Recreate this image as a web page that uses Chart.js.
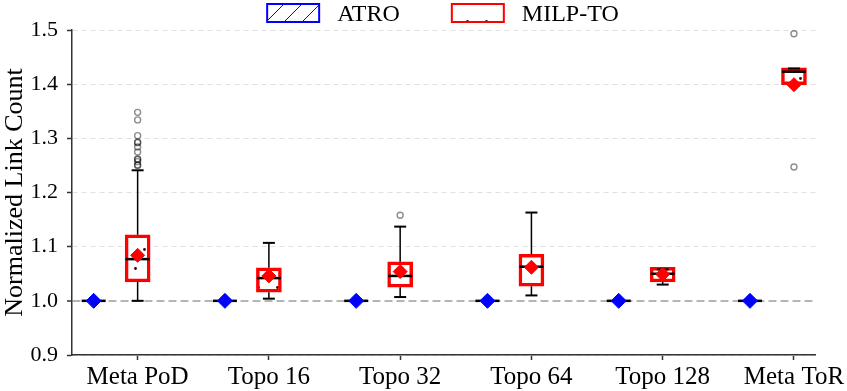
<!DOCTYPE html>
<html>
<head>
<meta charset="utf-8">
<script src="https://cdn.jsdelivr.net/npm/chart.js@4.4.1/dist/chart.umd.min.js"></script>
<style>
  html, body { margin: 0; padding: 0; background: #fff; }
  #wrap { width: 847px; height: 391px; }
</style>
</head>
<body>
<div id="wrap"><canvas id="chart" width="847" height="391"></canvas></div>
<script>
// categories and tick labels
const categories = ['Meta PoD', 'Topo 16', 'Topo 32', 'Topo 64', 'Topo 128', 'Meta ToR'];
const yTicks = [0.9, 1.0, 1.1, 1.2, 1.3, 1.4, 1.5];
const seriesNames = ['ATRO', 'MILP-TO'];

// ATRO: every run gives exactly the baseline
const atroLow    = [1.0, 1.0, 1.0, 1.0, 1.0, 1.0];
const atroQ1     = [1.0, 1.0, 1.0, 1.0, 1.0, 1.0];
const atroMedian = [1.0, 1.0, 1.0, 1.0, 1.0, 1.0];
const atroQ3     = [1.0, 1.0, 1.0, 1.0, 1.0, 1.0];
const atroHigh   = [1.0, 1.0, 1.0, 1.0, 1.0, 1.0];
const atroMean   = [1.0, 1.0, 1.0, 1.0, 1.0, 1.0];

// MILP-TO
const milpLow    = [1.000, 1.004, 1.007, 1.010, 1.030, 1.398];
const milpQ1     = [1.035, 1.016, 1.025, 1.027, 1.035, 1.399];
const milpMedian = [1.077, 1.042, 1.046, 1.063, 1.050, 1.423];
const milpQ3     = [1.122, 1.061, 1.072, 1.086, 1.062, 1.430];
const milpHigh   = [1.241, 1.107, 1.137, 1.163, 1.058, 1.429];
const milpMean   = [1.084, 1.046, 1.054, 1.062, 1.049, 1.399];
const milpOutliers = [
  [1.348, 1.334, 1.305, 1.292, 1.293, 1.284, 1.275, 1.262, 1.261, 1.257, 1.250, 1.251],
  [],
  [1.158],
  [],
  [],
  [1.493, 1.247]
];

const FONT = '"Liberation Serif", "Times New Roman", serif';
const RED = '#ff0000';
const BLUE = '#0000ff';
const atroShift = -0.335;   // ATRO box sits left of the tick

// hatch fills
function makePattern(w, h, paint) {
  const c = document.createElement('canvas');
  c.width = w; c.height = h;
  const g = c.getContext('2d');
  g.fillStyle = '#fff';
  g.fillRect(0, 0, w, h);
  paint(g);
  return document.getElementById('chart').getContext('2d').createPattern(c, 'repeat');
}
const dotHatch = makePattern(19, 38, g => {
  g.fillStyle = '#3a0000';
  [[11.5, 21.5], [2.5, 2.5]].forEach(([px, py]) => {
    g.beginPath(); g.arc(px, py, 1.4, 0, Math.PI * 2); g.fill();
  });
});
const slashHatch = makePattern(18, 18, g => {
  g.strokeStyle = BLUE;
  g.lineWidth = 1;
  g.beginPath();
  g.moveTo(0, 18); g.lineTo(18, 0);
  g.moveTo(-2, 2); g.lineTo(2, -2);
  g.moveTo(16, 20); g.lineTo(20, 16);
  g.stroke();
});

const atroBoxes = categories.map((c, i) => ({ x: i + atroShift, y: [atroQ1[i], atroQ3[i]] }));
const milpBoxes = categories.map((c, i) => ({ x: i, y: [milpQ1[i], milpQ3[i]] }));
const atroMeans = categories.map((c, i) => ({ x: i + atroShift, y: atroMean[i] }));
const milpMeans = categories.map((c, i) => ({ x: i, y: milpMean[i] }));
const fliers = [];
milpOutliers.forEach((list, i) => list.forEach(v => fliers.push({ x: i, y: v })));

// whiskers, caps and medians, drawn right after each box dataset
const whiskerPlugin = {
  id: 'whiskers',
  afterDatasetDraw(chart, args) {
    const ds = chart.data.datasets[args.index];
    if (!ds.stats) return;
    const { ctx, scales: { x, y } } = chart;
    const s = ds.stats;
    ctx.save();
    ctx.strokeStyle = '#000';
    ctx.lineCap = 'butt';
    categories.forEach((c, i) => {
      const px = x.getPixelForValue(i + s.shift);
      const line = (x1, y1, x2, y2, w) => {
        ctx.lineWidth = w;
        ctx.beginPath(); ctx.moveTo(x1, y1); ctx.lineTo(x2, y2); ctx.stroke();
      };
      line(px, y.getPixelForValue(s.q3[i]), px, y.getPixelForValue(s.high[i]), 1.5);
      line(px, y.getPixelForValue(s.q1[i]), px, y.getPixelForValue(s.low[i]), 1.5);
      line(px - 6, y.getPixelForValue(s.high[i]), px + 6, y.getPixelForValue(s.high[i]), 2);
      line(px - 6, y.getPixelForValue(s.low[i]), px + 6, y.getPixelForValue(s.low[i]), 2);
      const pm = y.getPixelForValue(s.median[i]);
      line(px - 12, pm, px + 12, pm, 2.5);
    });
    ctx.restore();
  }
};

// legend above the plot
const legendPlugin = {
  id: 'topLegend',
  afterDraw(chart) {
    const { ctx, chartArea } = chart;
    const items = [
      { text: seriesNames[0], color: BLUE, fill: slashHatch },
      { text: seriesNames[1], color: RED, fill: dotHatch }
    ];
    ctx.save();
    ctx.font = '24px ' + FONT;
    const boxW = 52, boxH = 18, gap = 18, itemGap = 52;
    let total = itemGap * (items.length - 1);
    items.forEach(it => { it.w = ctx.measureText(it.text).width; total += boxW + gap + it.w; });
    let cx = (chartArea.left + chartArea.right) / 2 - total / 2 - 1;
    items.forEach(it => {
      ctx.fillStyle = it.fill;
      ctx.fillRect(cx, 4, boxW, boxH);
      ctx.strokeStyle = it.color;
      ctx.lineWidth = 2;
      ctx.strokeRect(cx, 4, boxW, boxH);
      ctx.fillStyle = '#000';
      ctx.textBaseline = 'alphabetic';
      ctx.fillText(it.text, cx + boxW + gap, 21);
      cx += boxW + gap + it.w + itemGap;
    });
    ctx.restore();
  }
};

new Chart(document.getElementById('chart'), {
  type: 'bar',
  data: {
    datasets: [
      {
        type: 'scatter', label: 'means ' + seriesNames[1], data: milpMeans, order: 0,
        pointStyle: 'rectRot', pointRadius: 7, backgroundColor: RED, borderColor: RED, borderWidth: 1
      },
      {
        type: 'scatter', label: 'means ' + seriesNames[0], data: atroMeans, order: 0,
        pointStyle: 'rectRot', pointRadius: 7.5, backgroundColor: BLUE, borderColor: BLUE, borderWidth: 1
      },
      {
        type: 'scatter', label: 'outliers', data: fliers, order: 1,
        pointStyle: 'circle', pointRadius: 3, borderWidth: 1.4,
        borderColor: 'rgba(0,0,0,0.45)', backgroundColor: 'rgba(255,255,255,0)'
      },
      {
        label: seriesNames[0], data: atroBoxes, order: 2, grouped: false, barThickness: 25,
        backgroundColor: slashHatch, borderColor: BLUE, borderWidth: 3.5, borderSkipped: false,
        stats: { shift: atroShift, low: atroLow, q1: atroQ1, median: atroMedian, q3: atroQ3, high: atroHigh }
      },
      {
        label: seriesNames[1], data: milpBoxes, order: 2, grouped: false, barThickness: 25,
        backgroundColor: dotHatch, borderColor: RED, borderWidth: 3.5, borderSkipped: false,
        stats: { shift: 0, low: milpLow, q1: milpQ1, median: milpMedian, q3: milpQ3, high: milpHigh }
      }
    ]
  },
  options: {
    responsive: false,
    animation: false,
    layout: { padding: { top: 30, right: 30, left: 0, bottom: 0 } },
    plugins: { legend: { display: false }, tooltip: { enabled: false } },
    scales: {
      x: {
        type: 'linear', min: -0.5, max: 5.167, offset: false,
        afterBuildTicks: s => { s.ticks = categories.map((c, i) => ({ value: i })); },
        afterFit: s => { s.height = 36; },
        ticks: {
          callback: v => categories[v], autoSkip: false, maxRotation: 0,
          font: { family: FONT, size: 25 }, color: '#000', padding: 2
        },
        grid: { drawOnChartArea: false, offset: false, tickLength: 5, tickWidth: 1.5, tickColor: '#333' },
        border: { color: '#333', width: 1.5 }
      },
      y: {
        min: 0.9, max: 1.5,
        afterBuildTicks: s => { s.ticks = yTicks.map(v => ({ value: v })); },
        afterFit: s => { s.width = 72; },
        ticks: {
          callback: v => v.toFixed(1),
          font: { family: FONT, size: 22 }, color: '#000', padding: 9
        },
        grid: {
          color: c => (c.tick && c.tick.value === 1.0) ? '#b5b5b5' : '#e0e0e0',
          lineWidth: c => (c.tick && c.tick.value === 1.0) ? 2 : 1,
          tickLength: 5, tickWidth: 1.5, tickColor: '#333'
        },
        border: {
          color: '#333', width: 1.5,
          dash: c => (c.tick && c.tick.value === 1.0) ? [8, 4] : [5, 4]
        },
        title: {
          display: true, text: 'Normalized Link Count', color: '#000',
          font: { family: FONT, size: 26, lineHeight: 1.15 }, padding: 0
        }
      }
    }
  },
  plugins: [whiskerPlugin, legendPlugin]
});
</script>
</body>
</html>
